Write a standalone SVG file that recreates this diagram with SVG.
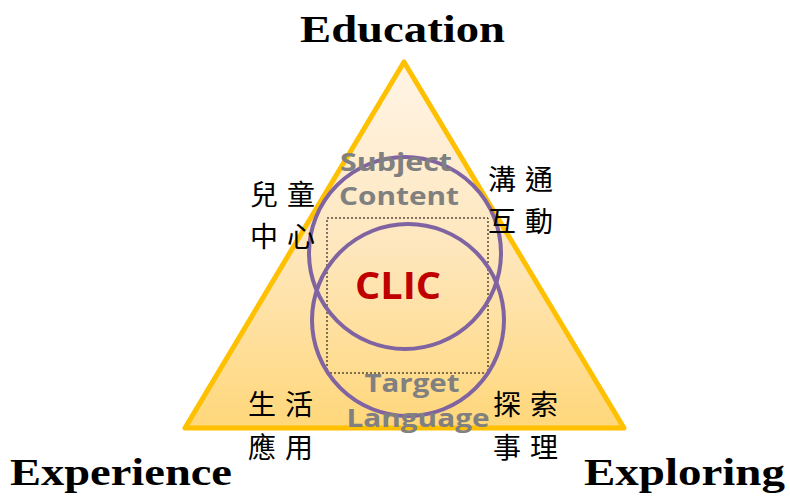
<svg xmlns="http://www.w3.org/2000/svg" width="790" height="499" viewBox="0 0 790 499">
<defs>
<linearGradient id="tri" x1="0" y1="0" x2="0" y2="1">
<stop offset="0" stop-color="#FFF4E6"/>
<stop offset="0.5" stop-color="#FEE7BE"/>
<stop offset="1" stop-color="#FFD77A"/>
</linearGradient>
<style>
.title{font-family:"Liberation Serif",serif;font-weight:bold;font-size:38px;fill:#000}
.cjk{font-family:"Noto Sans CJK TC","Noto Sans CJK SC",sans-serif;font-size:28px;fill:#000;letter-spacing:9px}
.gray{font-family:"Open Sans","Liberation Sans",sans-serif;font-weight:bold;font-size:25px;fill:#808080;text-anchor:middle}
.circ{fill:none;stroke:#8064A2;stroke-width:4}
</style>
</defs>
<g id="triangle">
<polygon points="404,62 185,428 624,428" fill="url(#tri)" stroke="#FFC000" stroke-width="5" stroke-linejoin="round"/>
</g>
<g id="box">
<rect x="327" y="218" width="161" height="155" fill="none" stroke="#000" stroke-width="1" stroke-dasharray="2,2"/>
</g>
<g id="subject">
<circle class="circ" cx="405" cy="253" r="96"/>
<text class="gray" x="396" y="171" textLength="112" lengthAdjust="spacingAndGlyphs">Subject</text>
<text class="gray" x="399" y="205" textLength="120" lengthAdjust="spacingAndGlyphs">Content</text>
</g>
<g id="target">
<circle class="circ" cx="408" cy="320" r="96"/>
<text class="gray" x="412" y="392" textLength="95" lengthAdjust="spacingAndGlyphs">Target</text>
<text class="gray" x="418" y="427" textLength="143" lengthAdjust="spacingAndGlyphs">Language</text>
</g>
<g id="clic">
<text x="398" y="299" font-family="Open Sans, Liberation Sans, sans-serif" font-weight="bold" font-size="38" fill="#C00000" text-anchor="middle" textLength="86" lengthAdjust="spacingAndGlyphs">CLIC</text>
</g>
<g id="education"><text class="title" x="300" y="42" textLength="205" lengthAdjust="spacingAndGlyphs">Education</text></g>
<g id="experience"><text class="title" x="10" y="485" textLength="222" lengthAdjust="spacingAndGlyphs">Experience</text></g>
<g id="exploring"><text class="title" x="584" y="485" textLength="201" lengthAdjust="spacingAndGlyphs">Exploring</text></g>
<g id="child">
<text class="cjk" x="250" y="205">兒童</text>
<text class="cjk" x="250" y="247">中心</text>
</g>
<g id="comm">
<text class="cjk" x="488" y="190">溝通</text>
<text class="cjk" x="488" y="232">互動</text>
</g>
<g id="life">
<text class="cjk" x="248" y="415">生活</text>
<text class="cjk" x="248" y="458">應用</text>
</g>
<g id="explore">
<text class="cjk" x="493" y="415">探索</text>
<text class="cjk" x="493" y="458">事理</text>
</g>
</svg>
